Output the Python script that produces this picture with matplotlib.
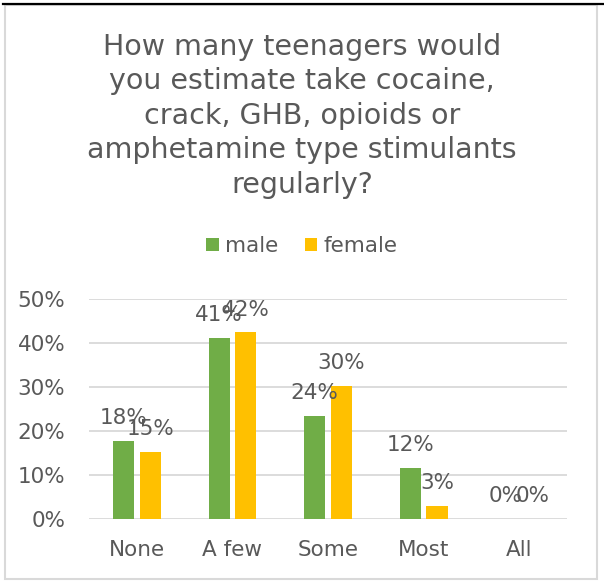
import matplotlib.pyplot as plt
import numpy as np
from matplotlib.patches import Rectangle
from matplotlib.lines import Line2D

plt.rcParams['font.family'] = ['DejaVu Sans']

categories = ['None', 'A few', 'Some', 'Most', 'All']
male = [0.177, 0.412, 0.235, 0.117, 0.0]
female = [0.152, 0.424, 0.302, 0.030, 0.0]
male_labels = ['18%', '41%', '24%', '12%', '0%']
female_labels = ['15%', '42%', '30%', '3%', '0%']
yticks = [0, 0.1, 0.2, 0.3, 0.4, 0.5]
title = ('How many teenagers would\nyou estimate take cocaine,\ncrack, GHB, opioids or\n'
         'amphetamine type stimulants\nregularly?')

text_color = '#595959'
green = '#70AD47'
yellow = '#FFC000'

fig = plt.figure(figsize=(6.04, 5.81), dpi=100)
fig.patch.set_facecolor('white')

# chart border and screenshot edge
fig.patches.append(Rectangle((4.5 / 604, 2.5 / 581), 592 / 604, 574 / 581, transform=fig.transFigure,
                             fill=False, edgecolor='#D9D9D9', linewidth=1.5))
fig.lines.append(Line2D([3 / 604, 1], [1 - 4 / 581, 1 - 4 / 581], transform=fig.transFigure,
                        color='black', linewidth=1.6))

ax = fig.add_axes([89 / 604, 62 / 581, 478 / 604, 220 / 581])
x = np.arange(len(categories))
w = 0.22
b1 = ax.bar(x - 0.14, male, w, color=green, label='male', zorder=3)
b2 = ax.bar(x + 0.14, female, w, color=yellow, label='female', zorder=3)

for bars, labels in ((b1, male_labels), (b2, female_labels)):
    for bar, lab in zip(bars, labels):
        ax.annotate(lab, (bar.get_x() + bar.get_width() / 2, bar.get_height()),
                    xytext=(0, 12), textcoords='offset points', ha='center', va='baseline',
                    fontsize=15.5, color=text_color, zorder=4)

ax.set_xlim(-0.5, 4.5)
ax.set_ylim(0, 0.5)
ax.set_yticks(yticks)
ax.set_yticklabels([f'{int(round(t * 100))}%' for t in yticks])
ax.set_xticks(x)
ax.set_xticklabels(categories)
ax.tick_params(axis='both', length=0, labelsize=15.5, labelcolor=text_color)
ax.tick_params(axis='y', pad=17)
ax.tick_params(axis='x', pad=15)
ax.grid(axis='y', color='#D9D9D9', linewidth=1.3, zorder=0)
ax.set_axisbelow(True)
for s in ax.spines.values():
    s.set_visible(False)
ax.set_facecolor('none')

fig.text(0.5, 1 - 33 / 581, title, ha='center', va='top', fontsize=20.5,
         color=text_color, linespacing=1.29)

fig.legend(handles=[b1, b2], labels=['male', 'female'], loc='center',
           bbox_to_anchor=(0.5, 1 - 246 / 581), ncol=2, frameon=False, fontsize=15.5,
           labelcolor=text_color, handlelength=0.6, handleheight=0.6, handletextpad=0.3,
           columnspacing=1.2)

fig.savefig('out.png', dpi=100)
